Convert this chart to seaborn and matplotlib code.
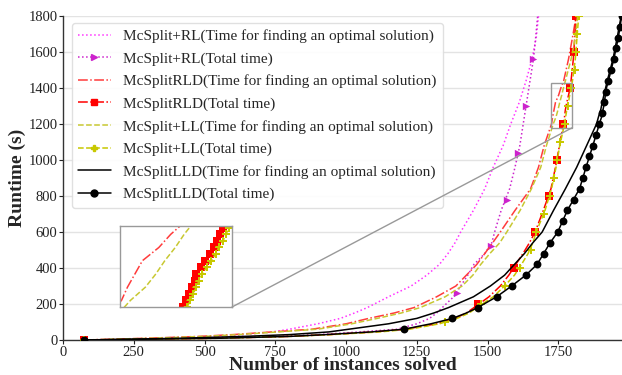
import numpy as np
import pandas as pd
import seaborn as sns
import matplotlib.pyplot as plt
from matplotlib.lines import Line2D
from matplotlib.patches import Rectangle, ConnectionPatch

# time (s) at which the instance counts were read
t = [0, 10, 20, 30, 45, 60, 90, 120, 150, 180, 240, 300, 360, 420, 480, 540, 600,
     720, 840, 960, 1080, 1200, 1240, 1280, 1320, 1360, 1400, 1440, 1560, 1680, 1800]

# number of instances solved within t
rl_opt = [75, 330, 520, 640, 740, 800, 900, 980, 1030, 1075, 1150, 1230, 1285, 1330, 1360, 1385, 1405,
          1450, 1490, 1520, 1555, 1582, 1592, 1602, 1612, 1620, 1628, 1636, 1657, 1672, 1680]
rl_tot = [75, 500, 760, 900, 1050, 1180, 1250, 1295, 1320, 1340, 1380, 1405, 1430, 1452, 1490, 1515, 1525,
          1548, 1578, 1597, 1614, 1626, 1630, 1634, 1638, 1642, 1646, 1650, 1662, 1670, 1677]
rld_opt = [75, 300, 480, 600, 740, 880, 1000, 1080, 1170, 1240, 1320, 1388, 1425, 1462, 1490, 1518, 1545,
           1597, 1652, 1680, 1700, 1726, 1730, 1735, 1740, 1751, 1759, 1769, 1786, 1800, 1813]
rld_tot = [75, 560, 800, 940, 1100, 1210, 1320, 1385, 1425, 1452, 1505, 1545, 1575, 1600, 1625, 1648, 1668,
           1697, 1724, 1740, 1754, 1768, 1772, 1775, 1780, 1786, 1792, 1795, 1803, 1808, 1812]
ll_opt = [75, 320, 500, 620, 760, 900, 1020, 1110, 1195, 1262, 1350, 1410, 1448, 1476, 1508, 1543, 1568,
          1615, 1655, 1688, 1708, 1732, 1742, 1749, 1755, 1762, 1768, 1775, 1795, 1810, 1818]
ll_tot = [75, 560, 800, 950, 1120, 1225, 1330, 1392, 1435, 1462, 1520, 1560, 1595, 1620, 1643, 1660, 1672,
          1703, 1726, 1742, 1755, 1772, 1776, 1780, 1786, 1790, 1795, 1800, 1810, 1816, 1822]
lld_opt = [75, 420, 640, 800, 940, 1010, 1150, 1250, 1310, 1362, 1450, 1510, 1560, 1595, 1630, 1660, 1693,
           1733, 1775, 1815, 1850, 1885, 1892, 1900, 1905, 1911, 1917, 1923, 1943, 1958, 1972]
lld_tot = [75, 560, 800, 930, 1090, 1205, 1300, 1376, 1425, 1465, 1532, 1585, 1635, 1675, 1698, 1721, 1748,
           1782, 1825, 1848, 1872, 1895, 1903, 1908, 1913, 1916, 1920, 1927, 1946, 1962, 1974]

# marker positions of the "Total time" curves
rl_mark_t = [0, 260, 520, 780, 1040, 1300, 1560]
rl_mark_n = [75, 1393, 1511, 1568, 1609, 1636, 1662]
rld_mark_t = [0, 200, 400, 600, 800, 1000, 1200, 1400, 1600, 1800]
rld_mark_n = [75, 1466, 1594, 1668, 1717, 1745, 1767, 1792, 1805, 1812]
ll_mark_t = [0, 100, 200, 300, 400, 500, 600, 700, 800, 900, 1000, 1100, 1200, 1300, 1400, 1500, 1600, 1700, 1800]
ll_mark_n = [75, 1350, 1478, 1560, 1615, 1652, 1672, 1700, 1720, 1735, 1747, 1757, 1772, 1784, 1795, 1808, 1812, 1817, 1822]
lld_mark_t = [0, 60, 120, 180, 240, 300, 360, 420, 480, 540, 600, 660, 720, 780, 840, 900, 960, 1020,
              1080, 1140, 1200, 1260, 1320, 1380, 1440, 1500, 1560, 1620, 1680, 1740, 1800]
lld_mark_n = [75, 1205, 1376, 1465, 1532, 1585, 1635, 1675, 1698, 1721, 1748, 1765, 1782, 1805, 1825, 1838, 1848, 1860,
              1872, 1883, 1895, 1905, 1913, 1918, 1927, 1935, 1946, 1954, 1962, 1968, 1974]

# finer samples shown in the zoomed inset
zoom_t = [1180, 1200, 1220, 1240, 1260, 1280, 1300, 1320, 1340, 1360, 1380, 1400, 1420]
zoom_rld_n = [1767, 1769, 1771, 1773, 1775, 1776, 1779, 1782, 1785, 1788, 1790, 1792, 1794]
zoom_ll_n = [1770, 1772, 1774, 1776, 1778, 1780, 1783, 1786, 1789, 1791, 1794, 1796, 1798]

sns.set_theme(style="whitegrid")
plt.rcParams['font.family'] = ['Liberation Serif', 'DejaVu Serif']

fig = plt.figure(figsize=(6.22, 3.75), dpi=100)
ax = fig.add_axes([63/622, 1-340/375, 1-63/622, 324/375])

opt_series = [
    ("McSplit+RL(Time for finding an optimal solution)", rl_opt, "#ff33ff", ":"),
    ("McSplitRLD(Time for finding an optimal solution)", rld_opt, "#ff3b3b", "-."),
    ("McSplit+LL(Time for finding an optimal solution)", ll_opt, "#c8c832", "--"),
    ("McSplitLLD(Time for finding an optimal solution)", lld_opt, "black", "-"),
]
tot_series = [
    ("McSplit+RL(Total time)", rl_tot, rl_mark_t, rl_mark_n, "#cc22cc", ":", ">", 28),
    ("McSplitRLD(Total time)", rld_tot, rld_mark_t, rld_mark_n, "red", "-.", "s", 26),
    ("McSplit+LL(Total time)", ll_tot, ll_mark_t, ll_mark_n, "#c8c800", "--", "P", 30),
    ("McSplitLLD(Total time)", lld_tot, lld_mark_t, lld_mark_n, "black", "-", "o", 32),
]

handles = []
for i in range(4):
    lab, n, c, ls = opt_series[i]
    sns.lineplot(x=n, y=t, ax=ax, color=c, linestyle=ls, lw=1.1, estimator=None, sort=False, zorder=3 + i)
    handles.append(Line2D([], [], color=c, linestyle=ls, lw=1.1, label=lab))
    lab, n, mt, mn, c, ls, mk, ms = tot_series[i]
    sns.lineplot(x=n, y=t, ax=ax, color=c, linestyle=ls, lw=1.1, estimator=None, sort=False, zorder=3 + i)
    sns.scatterplot(x=mn, y=mt, ax=ax, color=c, marker=mk, s=ms, linewidth=0, zorder=3 + i)
    handles.append(Line2D([], [], color=c, linestyle=ls, lw=1.1, marker=mk, markersize=5, label=lab))

ax.set_xlim(0, 1975)
ax.set_ylim(0, 1800)
ax.set_xticks([0, 250, 500, 750, 1000, 1250, 1500, 1750])
ax.set_yticks(range(0, 1801, 200))
ax.grid(axis='x', visible=False)
ax.grid(axis='y', color='#e3e3e3', lw=1)
for s in ['top', 'right']:
    ax.spines[s].set_visible(False)
for s in ['left', 'bottom']:
    ax.spines[s].set_color('#333333')
    ax.spines[s].set_linewidth(1)
ax.tick_params(axis='both', labelsize=10.5, colors='#222222', length=3, width=0.8, pad=1, direction='out',
               left=True, bottom=True)
ax.set_xlabel("Number of instances solved", fontsize=14, fontweight='bold', labelpad=-1)
ax.set_ylabel("Runtime (s)", fontsize=14, fontweight='bold', labelpad=2)

leg = ax.legend(handles=handles, loc='upper left', fontsize=11, frameon=True, handlelength=2.15,
                labelspacing=0.57, borderpad=0.4, handletextpad=0.8, borderaxespad=0,
                bbox_to_anchor=(0.016, 0.978))
leg.get_frame().set_edgecolor('#dddddd')
leg.get_frame().set_alpha(0.9)

# zoomed inset
x1, x2, y1, y2 = 1725, 1800, 1180, 1425
ax.add_patch(Rectangle((x1, y1), x2 - x1, y2 - y1, fill=False, ec='#999999', lw=1, zorder=10))
axins = fig.add_axes([120/622, 1-307/375, 112/622, 81/375])
axins.set_facecolor('white')
sns.lineplot(x=rld_opt, y=t, ax=axins, color="#ff3b3b", linestyle="-.", lw=1.1, estimator=None, sort=False)
sns.lineplot(x=ll_opt, y=t, ax=axins, color="#c8c832", linestyle="--", lw=1.1, estimator=None, sort=False)
sns.lineplot(x=zoom_rld_n, y=zoom_t, ax=axins, color="red", linestyle="-.", lw=1.1, estimator=None, sort=False)
sns.scatterplot(x=zoom_rld_n, y=zoom_t, ax=axins, color="red", marker="s", s=26, linewidth=0)
sns.lineplot(x=zoom_ll_n, y=zoom_t, ax=axins, color="#c8c800", linestyle="--", lw=1.1, estimator=None, sort=False)
sns.scatterplot(x=zoom_ll_n, y=zoom_t, ax=axins, color="#c8c800", marker="P", s=30, linewidth=0)
axins.set_xlim(x1, x2)
axins.set_ylim(y1, y2)
axins.set_xticks([])
axins.set_yticks([])
axins.set_xlabel("")
axins.set_ylabel("")
axins.grid(False)
for s in axins.spines.values():
    s.set_edgecolor('#999999')
    s.set_linewidth(1)
con = ConnectionPatch(xyA=(1, 0), coordsA=axins.transAxes, xyB=(x2, y1), coordsB=ax.transData,
                      color='#999999', lw=1)
fig.add_artist(con)

plt.savefig("out.png", dpi=100)
